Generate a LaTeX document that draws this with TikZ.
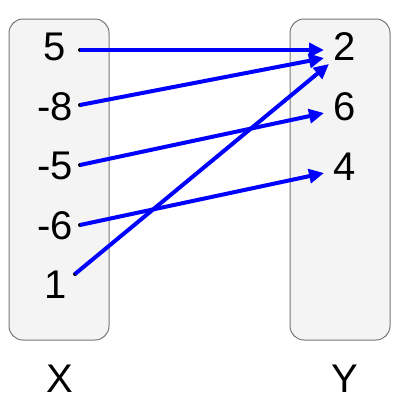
\documentclass[tikz,border=0pt]{standalone}
\usepackage{fontspec}
\setmainfont{Liberation Sans}
\usetikzlibrary{arrows.meta}
\definecolor{boxfill}{HTML}{F4F4F4}
\definecolor{boxline}{HTML}{777777}
\begin{document}
\begin{tikzpicture}[x=1pt,y=-1pt,
  setbox/.style={draw=boxline,fill=boxfill,line width=1pt,rounded corners=14pt},
  lbl/.style={font=\fontsize{40}{40}\selectfont,inner sep=0pt,text=black},
  maparrow/.style={draw=blue,line width=4pt,-{Triangle[length=15pt,width=14pt]}},
  tail/.style={fill=black,circle,inner sep=0pt,minimum size=4pt}]
\useasboundingbox (0,0) rectangle (400,400);
\draw[setbox] (9,19) rectangle (109,340);
\draw[setbox] (290,19) rectangle (390,340);
\node[lbl] (x5) at (55,47) {5};
\node[lbl] (xm8) at (55,107) {-8};
\node[lbl] (xm5) at (55,166) {-5};
\node[lbl] (xm6) at (55,226) {-6};
\node[lbl] (x1) at (56,285) {1};
\node[lbl] (y2) at (345,47) {2};
\node[lbl] (y6) at (345,107) {6};
\node[lbl] (y4) at (345,167) {4};
\node[lbl] (X) at (60,379) {X};
\node[lbl] (Y) at (345,379) {Y};
\node[tail] (t5) at (80,50) {};
\node[tail] (tm8) at (80,105) {};
\node[tail] (tm5) at (80,165) {};
\node[tail] (tm6) at (80,225) {};
\node[tail] (t1) at (75,274) {};
\coordinate (h2a) at (324,50);
\coordinate (h2b) at (324,58);
\coordinate (h2c) at (329,64);
\coordinate (h6) at (324,113);
\coordinate (h4) at (324,173);
\draw[maparrow] (t5.center) -- (h2a);
\draw[maparrow] (tm8.center) -- (h2b);
\draw[maparrow] (tm5.center) -- (h6);
\draw[maparrow] (tm6.center) -- (h4);
\draw[maparrow] (t1.center) -- (h2c);
\end{tikzpicture}
\end{document}
